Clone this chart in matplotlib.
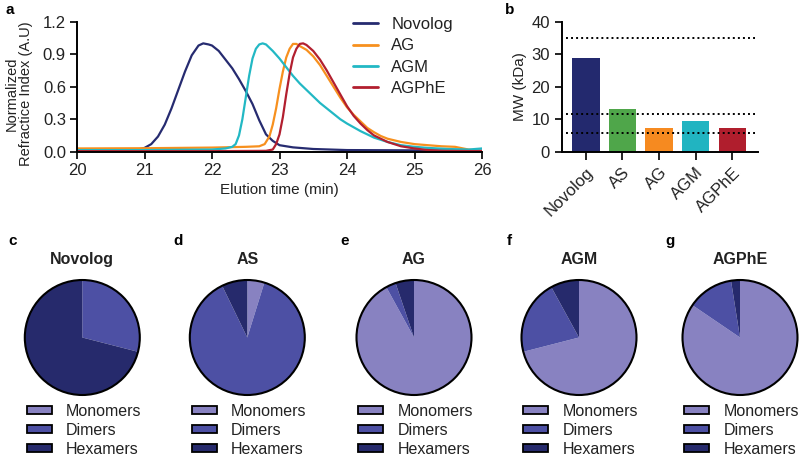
import matplotlib
matplotlib.use("Agg")
import matplotlib.pyplot as plt
from matplotlib.patches import Patch, Circle

plt.rcParams['font.family'] = ['Liberation Sans', 'DejaVu Sans']

# ---------------- data: panel a (elution curves) ----------------
novolog_t = [20.0, 20.8, 20.9, 21.0, 21.1, 21.2, 21.3, 21.4, 21.5, 21.6, 21.7, 21.8, 21.87,
             21.95, 22.0, 22.1, 22.2, 22.3, 22.4, 22.5, 22.6, 22.7, 22.8, 22.9, 23.0, 23.2,
             23.5, 24.0, 26.0]
novolog_y = [0.01, 0.012, 0.02, 0.035, 0.07, 0.14, 0.25, 0.40, 0.57, 0.74, 0.89, 0.98, 1.0,
             0.99, 0.98, 0.93, 0.85, 0.77, 0.67, 0.56, 0.44, 0.29, 0.16, 0.10, 0.06, 0.04,
             0.025, 0.015, 0.01]

ag_t = [20.0, 21.0, 22.0, 22.5, 22.7, 22.78, 22.85, 22.9, 22.95, 23.0, 23.05, 23.1, 23.15,
        23.2, 23.25, 23.3, 23.4, 23.5, 23.6, 23.7, 23.8, 23.9, 24.0, 24.1, 24.2, 24.3, 24.4,
        24.5, 24.6, 24.8, 25.0, 25.2, 25.4, 25.6, 25.8, 26.0]
ag_y = [0.03, 0.032, 0.038, 0.045, 0.05, 0.07, 0.14, 0.25, 0.40, 0.58, 0.74, 0.87, 0.95,
        0.995, 0.995, 0.975, 0.94, 0.88, 0.80, 0.70, 0.60, 0.50, 0.41, 0.34, 0.28, 0.22, 0.18,
        0.145, 0.12, 0.09, 0.07, 0.06, 0.05, 0.045, 0.02, 0.005]

agm_t = [20.0, 21.0, 22.0, 22.2, 22.3, 22.35, 22.4, 22.45, 22.5, 22.55, 22.6, 22.65, 22.7,
         22.75, 22.8, 22.9, 23.0, 23.1, 23.2, 23.3, 23.4, 23.5, 23.6, 23.7, 23.8, 23.9, 24.0,
         24.2, 24.4, 24.6, 24.8, 25.0, 25.2, 25.5, 25.8, 26.0]
agm_y = [0.015, 0.015, 0.02, 0.03, 0.045, 0.07, 0.15, 0.30, 0.50, 0.70, 0.86, 0.95, 0.99,
         1.0, 0.99, 0.93, 0.86, 0.78, 0.70, 0.63, 0.57, 0.51, 0.45, 0.40, 0.35, 0.30, 0.26,
         0.19, 0.13, 0.09, 0.06, 0.045, 0.035, 0.025, 0.02, 0.03]

agphe_t = [20.0, 22.0, 22.8, 22.9, 22.95, 23.0, 23.05, 23.1, 23.15, 23.2, 23.25, 23.3, 23.35,
           23.4, 23.5, 23.6, 23.7, 23.8, 23.9, 24.0, 24.1, 24.2, 24.3, 24.4, 24.5, 24.6, 24.8,
           25.0, 25.2, 25.4, 26.0]
agphe_y = [0.005, 0.005, 0.008, 0.02, 0.07, 0.16, 0.32, 0.53, 0.72, 0.87, 0.95, 0.995, 1.0,
           0.985, 0.93, 0.85, 0.75, 0.64, 0.53, 0.42, 0.33, 0.26, 0.20, 0.15, 0.12, 0.09, 0.05,
           0.03, 0.015, 0.008, 0.005]

series_names = ["Novolog", "AG", "AGM", "AGPhE"]
series_colors = ["#262b70", "#f7901e", "#22b8c4", "#b21f2f"]

# ---------------- data: panel b (MW) ----------------
mw_labels = ["Novolog", "AS", "AG", "AGM", "AGPhE"]
mw_values = [28.8, 13.0, 7.3, 9.4, 7.3]
mw_colors = ["#23296e", "#4fa64a", "#f68a20", "#21b4c1", "#b01e2d"]
ref_lines = [35.0, 11.6, 5.8]

# ---------------- data: panels c-g (pies) ----------------
pie_titles = ["Novolog", "AS", "AG", "AGM", "AGPhE"]
pie_letters = ["c", "d", "e", "f", "g"]
monomers = [0.0, 4.8, 92.0, 71.0, 84.5]
dimers = [29.0, 88.0, 2.8, 21.0, 13.0]
hexamers = [71.0, 7.2, 5.2, 8.0, 2.5]
state_labels = ["Monomers", "Dimers", "Hexamers"]
state_colors = ["#8882c1", "#4d50a4", "#262a6c"]

W, H = 800, 457
fig = plt.figure(figsize=(W / 100, H / 100), dpi=100)
TXT = "#222222"


def px_axes(x0, y0, x1, y1):
    return fig.add_axes([x0 / W, 1 - y1 / H, (x1 - x0) / W, (y1 - y0) / H])


# ---------------- panel a ----------------
axa = px_axes(77, 21.7, 482, 151.7)
for t, y, name, c in zip([novolog_t, ag_t, agm_t, agphe_t],
                         [novolog_y, ag_y, agm_y, agphe_y],
                         series_names, series_colors):
    axa.plot(t, y, color=c, lw=1.6, label=name, solid_capstyle='round')
axa.set_xlim(20, 26)
axa.set_ylim(0, 1.2)
axa.set_xticks([20, 21, 22, 23, 24, 25, 26])
axa.set_yticks([0.0, 0.3, 0.6, 0.9, 1.2])
axa.set_yticklabels(["0.0", "0.3", "0.6", "0.9", "1.2"])
for s in ["top", "right"]:
    axa.spines[s].set_visible(False)
for s in ["left", "bottom"]:
    axa.spines[s].set_linewidth(1.4)
axa.tick_params(width=1.4, length=5, labelsize=12, colors=TXT, pad=3)
axa.set_xlabel("Elution time (min)", fontsize=11, labelpad=4, color=TXT)
axa.set_ylabel("Normalized\nRefractice Index (A.U)", fontsize=10.5,
               color=TXT, linespacing=1.0)
axa.yaxis.set_label_coords(-0.109, 0.444)
leg = axa.legend(loc="upper left", bbox_to_anchor=((353 - 77) / 405, 1.036),
                 frameon=False, fontsize=12, handlelength=1.5, handletextpad=0.8,
                 labelspacing=0.38, borderpad=0, borderaxespad=0)
for l in leg.get_lines():
    l.set_linewidth(2.0)
for t in leg.get_texts():
    t.set_color(TXT)
fig.text(5 / W, 1 - 10 / H, "a", fontsize=11, fontweight="bold", va="center")

# ---------------- panel b ----------------
axb = px_axes(561.7, 21.7, 758, 151.7)
xpos = list(range(len(mw_labels)))
axb.bar(xpos, mw_values, width=0.75, color=mw_colors, edgecolor="none", zorder=2)
for v in ref_lines:
    axb.plot([-0.53, 4.7], [v, v], color="black", lw=1.4, linestyle=(0, (1, 1.6)), zorder=3)
axb.set_xlim(-0.66, 4.7)
axb.set_ylim(0, 40)
axb.set_yticks([0, 10, 20, 30, 40])
axb.set_xticks(xpos)
axb.set_xticklabels(mw_labels, rotation=45, ha="right", rotation_mode="anchor")
for s in ["top", "right"]:
    axb.spines[s].set_visible(False)
for s in ["left", "bottom"]:
    axb.spines[s].set_linewidth(1.4)
axb.tick_params(width=1.4, length=5, labelsize=12, colors=TXT)
axb.tick_params(axis="x", length=6)
axb.set_ylabel("MW (kDa)", fontsize=11, labelpad=3, color=TXT)
fig.text(505 / W, 1 - 10 / H, "b", fontsize=11, fontweight="bold", va="center")

# ---------------- panels c-g ----------------
centers_x = [82.3, 247.3, 414.0, 579.0, 740.0]
cy = 337.5
r = 57.5
pad = 1.06
for i in range(5):
    cx = centers_x[i]
    ax = px_axes(cx - r * pad, cy - r * pad, cx + r * pad, cy + r * pad)
    vals = [monomers[i], dimers[i], hexamers[i]]
    ax.pie(vals, colors=state_colors, startangle=90, counterclock=False,
           wedgeprops=dict(linewidth=0, edgecolor="none"), radius=1)
    ax.add_patch(Circle((0, 0), 1, fill=False, edgecolor="black", lw=1.5, zorder=5))
    ax.set_xlim(-pad, pad)
    ax.set_ylim(-pad, pad)
    ax.set_aspect("equal")
    ax.axis("off")
    fig.text(cx / W, 1 - 259.5 / H, pie_titles[i], fontsize=11.5, fontweight="bold",
             ha="center", va="center", color=TXT)
    fig.text((cx - 69.6) / W, 1 - 240.5 / H, pie_letters[i], fontsize=11,
             fontweight="bold", ha="center", va="center")
    handles = [Patch(facecolor=c, edgecolor="black", lw=1.3) for c in state_colors]
    fig.legend(handles, state_labels, loc="upper left",
               bbox_to_anchor=((cx - 55.6) / W, 1 - 403.5 / H), frameon=False,
               fontsize=11.5, handlelength=1.56, handleheight=0.44, handletextpad=0.88,
               labelspacing=0.26, borderpad=0, borderaxespad=0,
               labelcolor=TXT)

fig.savefig("out.png", dpi=100)
